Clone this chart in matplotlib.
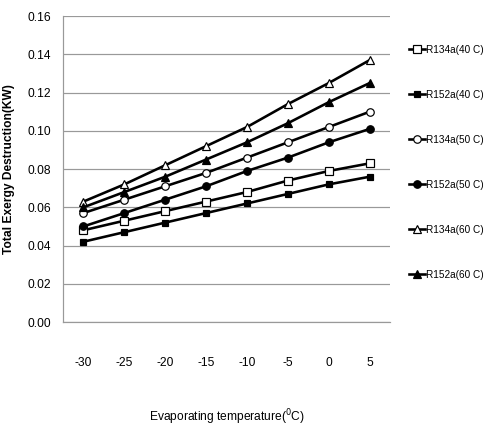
import matplotlib.pyplot as plt
import numpy as np

plt.rcParams['font.family'] = ['Liberation Sans', 'DejaVu Sans']

temps = ['-30', '-25', '-20', '-15', '-10', '-5', '0', '5']
r134a_40 = [0.048, 0.053, 0.058, 0.063, 0.068, 0.074, 0.079, 0.083]
r152a_40 = [0.042, 0.047, 0.052, 0.057, 0.062, 0.067, 0.072, 0.076]
r134a_50 = [0.057, 0.064, 0.071, 0.078, 0.086, 0.094, 0.102, 0.110]
r152a_50 = [0.050, 0.057, 0.064, 0.071, 0.079, 0.086, 0.094, 0.101]
r134a_60 = [0.063, 0.072, 0.082, 0.092, 0.102, 0.114, 0.125, 0.137]
r152a_60 = [0.060, 0.068, 0.076, 0.085, 0.094, 0.104, 0.115, 0.125]
labels = ['R134a(40 C)', 'R152a(40 C)', 'R134a(50 C)', 'R152a(50 C)', 'R134a(60 C)', 'R152a(60 C)']

series = [r134a_40, r152a_40, r134a_50, r152a_50, r134a_60, r152a_60]
markers = ['s', 's', 'o', 'o', '^', '^']
faces = ['white', 'black', 'white', 'black', 'white', 'black']
sizes = [7.5, 6.5, 7.5, 7.5, 7.5, 7.5]

fig = plt.figure(figsize=(7, 6), dpi=72)
ax = fig.add_axes([0.125, 0.2546, 0.649, 0.708])
x = np.arange(len(temps))
for s, m, fc, ms, lab in zip(series, markers, faces, sizes, labels):
    ax.plot(x, s, color='black', lw=2.6, marker=m, ms=ms, mfc=fc, mec='black', mew=1.2, label=lab)

ax.set_xlim(-0.5, len(temps) - 0.5)
ax.set_ylim(0, 0.16)
ax.set_yticks(np.arange(0, 0.161, 0.02))
ax.set_yticklabels(['%.2f' % v for v in np.arange(0, 0.161, 0.02)], fontsize=12)
ax.set_xticks(x)
ax.set_xticklabels(temps, fontsize=12)
ax.tick_params(axis='x', length=0, pad=35)
ax.tick_params(axis='y', length=0, pad=12)
ax.grid(axis='y', color='#999999', lw=1.2)
ax.set_axisbelow(True)
for sp in ['top', 'right']:
    ax.spines[sp].set_visible(False)
for sp in ['left', 'bottom']:
    ax.spines[sp].set_color('#999999')
    ax.spines[sp].set_linewidth(1.2)

ax.set_xlabel('Evaporating temperature($^0$C)', fontsize=12, labelpad=38)
ax.set_ylabel('Total Exergy Destruction(KW)', fontsize=12, fontweight='bold', labelpad=12)

ax.legend(loc='upper left', bbox_to_anchor=(1.035, 0.93), frameon=False, fontsize=10,
          handlelength=1.6, handletextpad=0.1, labelspacing=3.5, borderaxespad=0.3)

plt.savefig('out.png')
